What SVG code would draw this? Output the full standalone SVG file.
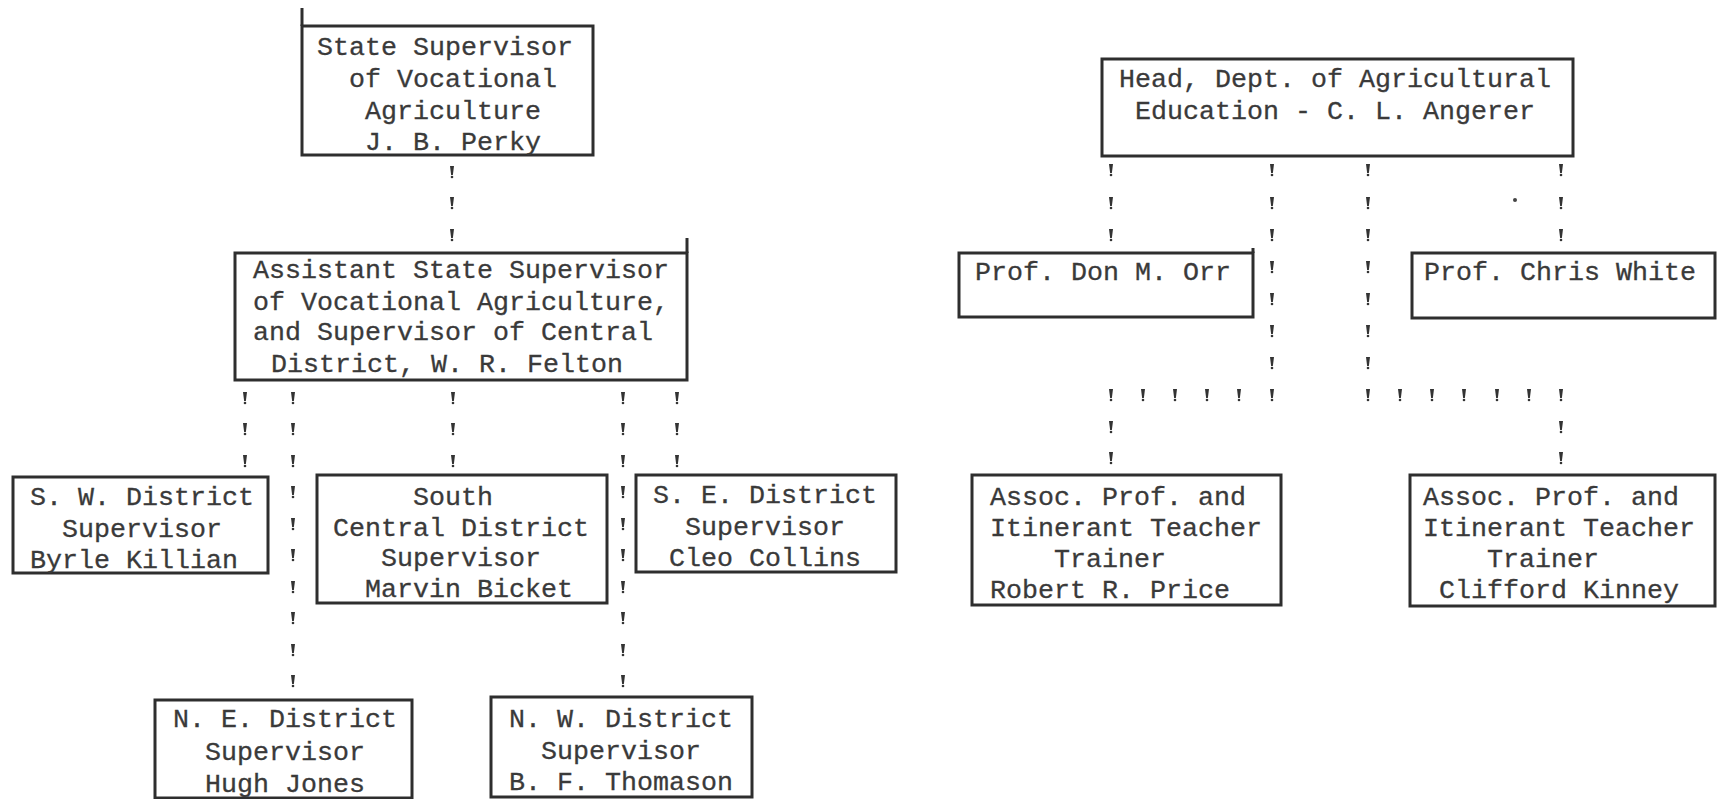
<svg xmlns="http://www.w3.org/2000/svg" xmlns:xlink="http://www.w3.org/1999/xlink" width="1717" height="799" viewBox="0 0 1717 799">
<style>
  .box { fill: none; stroke: #2e2e2e; stroke-width: 3; }
  .stub { stroke: #2e2e2e; stroke-width: 3; }
  .t { font-family: "Liberation Mono", "Courier New", monospace; font-size: 26.67px; fill: #3a3a3a; stroke: #3a3a3a; stroke-width: 0.3; white-space: pre; }
  .tick { fill: #333; }
</style>
<defs>
  <g id="tk">
    <polygon class="tick" points="-2,-6 2,-6 0.9,3 -0.9,3"/>
    <circle class="tick" cx="0" cy="5" r="1.3"/>
  </g>
</defs>
<rect width="1717" height="799" fill="#ffffff"/>

<g id="connectors">
  <g id="c-state-assistant">
    <use xlink:href="#tk" x="452" y="172"/><use xlink:href="#tk" x="452" y="203"/><use xlink:href="#tk" x="452" y="235"/>
  </g>
  <g id="c-assistant-sw">
    <use xlink:href="#tk" x="245" y="398"/><use xlink:href="#tk" x="245" y="429"/><use xlink:href="#tk" x="245" y="461"/>
  </g>
  <g id="c-assistant-ne">
    <use xlink:href="#tk" x="293" y="398"/><use xlink:href="#tk" x="293" y="429"/><use xlink:href="#tk" x="293" y="461"/><use xlink:href="#tk" x="293" y="492"/><use xlink:href="#tk" x="293" y="524"/><use xlink:href="#tk" x="293" y="555"/><use xlink:href="#tk" x="293" y="587"/><use xlink:href="#tk" x="293" y="618"/><use xlink:href="#tk" x="293" y="650"/><use xlink:href="#tk" x="293" y="681"/>
  </g>
  <g id="c-assistant-sc">
    <use xlink:href="#tk" x="453" y="398"/><use xlink:href="#tk" x="453" y="429"/><use xlink:href="#tk" x="453" y="461"/>
  </g>
  <g id="c-assistant-nw">
    <use xlink:href="#tk" x="623" y="398"/><use xlink:href="#tk" x="623" y="429"/><use xlink:href="#tk" x="623" y="461"/><use xlink:href="#tk" x="623" y="492"/><use xlink:href="#tk" x="623" y="524"/><use xlink:href="#tk" x="623" y="555"/><use xlink:href="#tk" x="623" y="587"/><use xlink:href="#tk" x="623" y="618"/><use xlink:href="#tk" x="623" y="650"/><use xlink:href="#tk" x="623" y="681"/>
  </g>
  <g id="c-assistant-se">
    <use xlink:href="#tk" x="677" y="398"/><use xlink:href="#tk" x="677" y="429"/><use xlink:href="#tk" x="677" y="461"/>
  </g>
  <g id="c-head-orr">
    <use xlink:href="#tk" x="1111" y="170"/><use xlink:href="#tk" x="1111" y="203"/><use xlink:href="#tk" x="1111" y="235"/>
  </g>
  <g id="c-head-price">
    <use xlink:href="#tk" x="1272" y="170"/><use xlink:href="#tk" x="1272" y="203"/><use xlink:href="#tk" x="1272" y="235"/><use xlink:href="#tk" x="1272" y="267"/><use xlink:href="#tk" x="1272" y="299"/><use xlink:href="#tk" x="1272" y="331"/><use xlink:href="#tk" x="1272" y="363"/><use xlink:href="#tk" x="1272" y="395"/>
    <use xlink:href="#tk" x="1239" y="395"/><use xlink:href="#tk" x="1207" y="395"/><use xlink:href="#tk" x="1175" y="395"/><use xlink:href="#tk" x="1143" y="395"/><use xlink:href="#tk" x="1111" y="395"/>
    <use xlink:href="#tk" x="1111" y="427"/><use xlink:href="#tk" x="1111" y="458"/>
  </g>
  <g id="c-head-kinney">
    <use xlink:href="#tk" x="1368" y="170"/><use xlink:href="#tk" x="1368" y="203"/><use xlink:href="#tk" x="1368" y="235"/><use xlink:href="#tk" x="1368" y="267"/><use xlink:href="#tk" x="1368" y="299"/><use xlink:href="#tk" x="1368" y="331"/><use xlink:href="#tk" x="1368" y="363"/><use xlink:href="#tk" x="1368" y="395"/>
    <use xlink:href="#tk" x="1400" y="395"/><use xlink:href="#tk" x="1432" y="395"/><use xlink:href="#tk" x="1464" y="395"/><use xlink:href="#tk" x="1497" y="395"/><use xlink:href="#tk" x="1529" y="395"/><use xlink:href="#tk" x="1561" y="395"/>
    <use xlink:href="#tk" x="1561" y="427"/><use xlink:href="#tk" x="1561" y="458"/>
  </g>
  <g id="c-head-white">
    <use xlink:href="#tk" x="1561" y="170"/><use xlink:href="#tk" x="1561" y="203"/><use xlink:href="#tk" x="1561" y="235"/>
  </g>
  <circle cx="1515" cy="200" r="2" fill="#444"/>
</g>

<g id="state-supervisor">
  <rect class="box" x="302" y="26" width="291" height="129"/>
  <line class="stub" x1="302" y1="8" x2="302" y2="26"/>
  <text class="t" x="317" y="55">State Supervisor</text>
  <text class="t" x="349" y="87">of Vocational</text>
  <text class="t" x="365" y="119">Agriculture</text>
  <text class="t" x="365" y="150">J. B. Perky</text>
</g>

<g id="assistant-supervisor">
  <rect class="box" x="235" y="253" width="452" height="127"/>
  <line class="stub" x1="687" y1="238" x2="687" y2="253"/>
  <text class="t" x="253" y="278">Assistant State Supervisor</text>
  <text class="t" x="253" y="310">of Vocational Agriculture,</text>
  <text class="t" x="253" y="340">and Supervisor of Central</text>
  <text class="t" x="271" y="372">District, W. R. Felton</text>
</g>

<g id="sw-district">
  <rect class="box" x="13" y="477" width="255" height="96"/>
  <text class="t" x="30" y="505">S. W. District</text>
  <text class="t" x="62" y="537">Supervisor</text>
  <text class="t" x="30" y="568">Byrle Killian</text>
</g>

<g id="south-central-district">
  <rect class="box" x="317" y="475" width="290" height="128"/>
  <text class="t" x="413" y="505">South</text>
  <text class="t" x="333" y="536">Central District</text>
  <text class="t" x="381" y="566">Supervisor</text>
  <text class="t" x="365" y="597">Marvin Bicket</text>
</g>

<g id="se-district">
  <rect class="box" x="636" y="475" width="260" height="97"/>
  <text class="t" x="653" y="503">S. E. District</text>
  <text class="t" x="685" y="535">Supervisor</text>
  <text class="t" x="669" y="566">Cleo Collins</text>
</g>

<g id="ne-district">
  <rect class="box" x="155" y="700" width="257" height="98"/>
  <text class="t" x="173" y="727">N. E. District</text>
  <text class="t" x="205" y="760">Supervisor</text>
  <text class="t" x="205" y="792">Hugh Jones</text>
</g>

<g id="nw-district">
  <rect class="box" x="491" y="697" width="261" height="100"/>
  <text class="t" x="509" y="727">N. W. District</text>
  <text class="t" x="541" y="759">Supervisor</text>
  <text class="t" x="509" y="790">B. F. Thomason</text>
</g>

<g id="head-ag-education">
  <rect class="box" x="1102" y="59" width="471" height="97"/>
  <text class="t" x="1119" y="87">Head, Dept. of Agricultural</text>
  <text class="t" x="1135" y="119">Education - C. L. Angerer</text>
</g>

<g id="prof-orr">
  <rect class="box" x="959" y="253" width="294" height="64"/>
  <line class="stub" x1="1253" y1="248" x2="1253" y2="253"/>
  <text class="t" x="975" y="280">Prof. Don M. Orr</text>
</g>

<g id="prof-white">
  <rect class="box" x="1412" y="253" width="303" height="65"/>
  <text class="t" x="1424" y="280">Prof. Chris White</text>
</g>

<g id="assoc-price">
  <rect class="box" x="972" y="475" width="309" height="130"/>
  <text class="t" x="990" y="505">Assoc. Prof. and</text>
  <text class="t" x="990" y="536">Itinerant Teacher</text>
  <text class="t" x="1054" y="567">Trainer</text>
  <text class="t" x="990" y="598">Robert R. Price</text>
</g>

<g id="assoc-kinney">
  <rect class="box" x="1410" y="475" width="305" height="131"/>
  <text class="t" x="1423" y="505">Assoc. Prof. and</text>
  <text class="t" x="1423" y="536">Itinerant Teacher</text>
  <text class="t" x="1487" y="567">Trainer</text>
  <text class="t" x="1439" y="598">Clifford Kinney</text>
</g>
</svg>
